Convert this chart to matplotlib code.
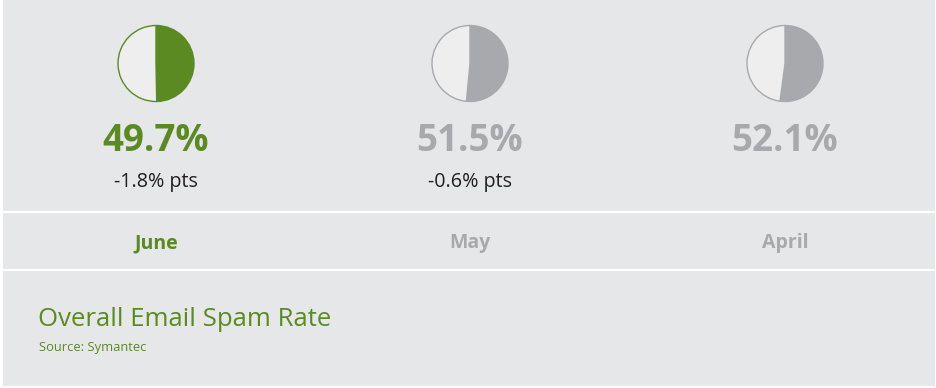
import matplotlib.pyplot as plt
from matplotlib.patches import Rectangle

# data
months = ['June', 'May', 'April']
spam_rate = [49.7, 51.5, 52.1]
changes = ['-1.8% pts', '-0.6% pts', '']

GREEN = '#5b8a23'
GRAY = '#a7a9ac'
BG = '#e6e7e8'
EMPTY = '#eeeeef'
TEXT = '#231f20'
FONT = 'Open Sans'

W, H = 937, 388
fig = plt.figure(figsize=(W / 100, H / 100), dpi=100)
fig.patch.set_facecolor('white')
ax = fig.add_axes([0, 0, 1, 1])


def py(y):
    # pixel row (from top) -> data y
    return H - y


ax.add_patch(Rectangle((3, py(386)), 932, 386, facecolor=BG, edgecolor='none', zorder=0))
for yl in (212, 270):
    ax.plot([3, 935], [py(yl), py(yl)], color='white', lw=1.6, zorder=1)

centers_x = [156, 470, 785]
for i, (m, v, ch) in enumerate(zip(months, spam_rate, changes)):
    col = GREEN if i == 0 else GRAY
    cx = centers_x[i]
    ax.pie([v, 100 - v], colors=[col, EMPTY], startangle=90, counterclock=False,
           center=(cx, py(63.5)), radius=38, frame=True,
           wedgeprops=dict(edgecolor=col, linewidth=1.0))
    ax.text(cx, py(141), f'{v:.1f}%', color=col, fontsize=26.5, fontweight='bold',
            family=FONT, ha='center', va='center')
    if ch:
        ax.text(cx, py(182), ch, color=TEXT, fontsize=14.2, family=FONT,
                ha='center', va='center')
    ax.text(cx, py(243), m, color=col, fontsize=14, fontweight='bold',
            family=FONT, ha='center', va='center')

ax.text(38, py(320), 'Overall Email Spam Rate', color=GREEN, fontsize=18.5,
        family=FONT, ha='left', va='center')
ax.text(39, py(348), 'Source: Symantec', color=GREEN, fontsize=9.3,
        family=FONT, ha='left', va='center')

ax.set_xlim(0, W)
ax.set_ylim(0, H)
ax.set_aspect('equal')
ax.axis('off')

plt.savefig('out.png', dpi=100, facecolor='white')
